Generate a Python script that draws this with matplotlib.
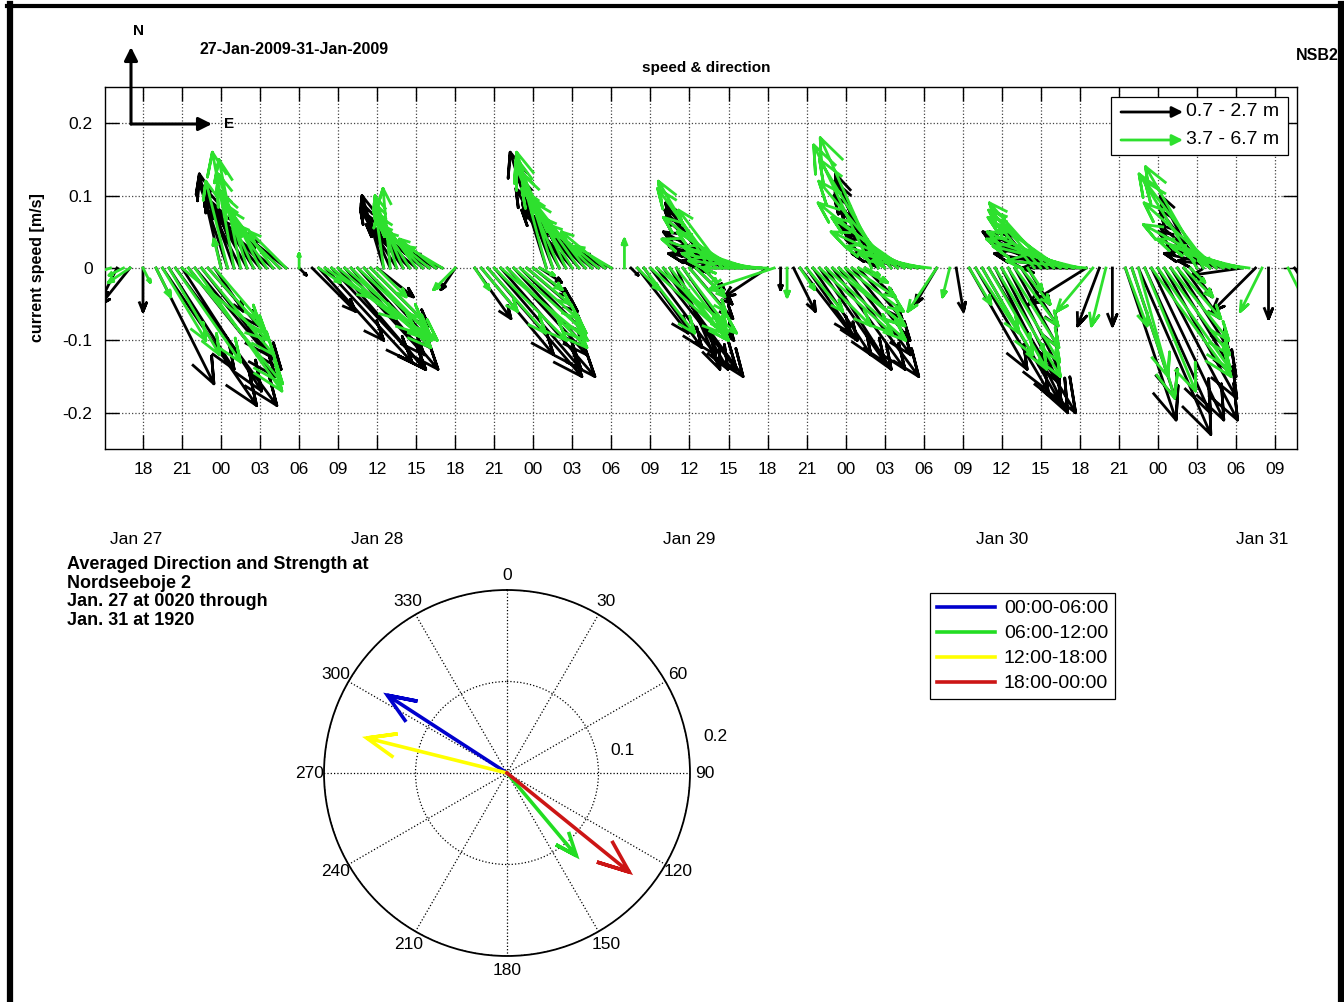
import numpy as np
import matplotlib
matplotlib.use('Agg')
import matplotlib.pyplot as plt
from matplotlib.lines import Line2D
from matplotlib.patches import Rectangle, FancyArrowPatch

plt.rcParams['font.family'] = ['Liberation Sans', 'DejaVu Sans']

# ---- feather data: 30-minute samples, east (u) / north (v) components in cm/s ----
t_start = 15.5      # hours, first sample
t_step = 0.5

u_top = [0, -2, 0, -4, 0, 0, 0,
         8, 13, 9, 14, 11, 12, 10, 11, 7, 4,
         -3, -4, -4, -5, -5, -5, -6, -6, -6, -5, -5,
         0, 1, 0, 6,
         9, 12, 13, 12, 11, 12, 10, 9, 8, 5,
         -3, -4, -5, -5, -6, -6, -6, -6, -5, -4,
         0, -2, 0, 0,
         5, 10, 13, 12, 13, 11, 10, 9, 7, 5, 3,
         -5, -5, -6, -6, -7, -6, -6, -6, -6, -5, -4, 0,
         0, 1,
         7, 8, 9, 11, 11, 8, 6, 7, 6, 5, 3,
         -6, -7, -8, -9, -10, -10, -11, -10, -9, -6, 0, 0, 0, 3,
         7, 7, 8, 9, 9, 10, 11, 9, 8, 6, 4,
         -5, -6, -7, -7, -8, -8, -9, -9, -8, 0, -3, 0, 0, 1, 0,
         8, 10, 11, 12, 10, 8, 7, 6, 5, 3,
         -4, -8, -8, -9, -9, -10, -9, -8, -8, 0, -3, 0, 0, 0,
         7, 6, 10, 9, 10, 11, 10, 9, 7, 5, 3,
         -5, -6, -7, -8, -8, -9, -8, -7, 0, -6, 0, 0, 0, 0, 0, 4]
v_top = [0, -4, 0, -5, 0, -6, 0,
         -16, -19, -14, -19, -17, -15, -12, -14, -8, -6,
         13, 12, 11, 10, 9, 8, 7, 6, 5, 5, 4,
         0, -1, 0, -6,
         -10, -13, -14, -14, -12, -14, -11, -10, -8, -4,
         10, 9, 8, 7, 6, 5, 5, 4, 3, 2,
         0, -3, 0, 0,
         -7, -12, -15, -14, -15, -12, -11, -9, -6, -4, -2,
         16, 13, 11, 9, 8, 7, 6, 5, 4, 3, 2, 0,
         0, -1,
         -9, -11, -12, -14, -15, -14, -14, -10, -7, -5, -3,
         9, 8, 7, 5, 4, 3, 2, 1, 0, -4, 0, -3, 0, -6,
         -9, -10, -12, -13, -14, -14, -15, -12, -10, -7, -4,
         13, 12, 10, 8, 6, 5, 4, 2, 1, 0, -5, 0, 0, -6, 0,
         -14, -17, -19, -20, -20, -16, -14, -11, -8, -5,
         5, 5, 5, 4, 3, 2, 1, 0, -5, 0, -8, 0, -8, 0,
         -21, -18, -23, -20, -21, -21, -18, -15, -11, -7, -4,
         10, 8, 6, 5, 3, 2, 1, -1, 0, -6, 0, -7, 0, 0, 0, -6]

u_deep = [-3, 0, -2, -3, 0, 1, 0,
          2, 6, 7, 9, 12, 13, 12, 10, 8, 6,
          -1, -3, -3, -3, -4, -5, -5, -6, -6, -6, -5,
          0, 0, 0, 0,
          3, 6, 9, 11, 12, 11, 11, 9, 7, 4,
          -1, -1, -3, -4, -5, -5, -6, -6, -5, -5,
          0, -3, 0, 0,
          2, 5, 8, 10, 12, 11, 10, 8, 6, 4, 2,
          -4, -5, -6, -6, -7, -7, -7, -7, -7, -6, -5, 0,
          0, 0,
          3, 7, 10, 11, 9, 8, 7, 6, 5, 4, 2,
          -7, -8, -6, -9, -8, -11, -9, -10, -10, -9, -9, 0, 0, 0,
          2, 5, 8, 10, 11, 10, 9, 8, 6, 4, 2,
          -8, -8, -9, -10, -11, -10, -11, -10, -9, -8, -4, 0, -1, 0, 0,
          3, 6, 7, 8, 9, 8, 7, 6, 4, 2,
          -5, -7, -8, -9, -10, -11, -12, -12, -11, -5, 0, -2, 0, 0,
          3, 5, 5, 7, 11, 10, 9, 8, 6, 4, 2,
          -8, -8, -9, -10, -11, -10, -9, -8, -7, 0, -3, 0, 0, 0, 3, 0]
v_deep = [-1, 0, -1, -2, 0, -2, 0,
          -4, -10, -12, -13, -10, -16, -17, -12, -9, -7,
          4, 12, 16, 15, 13, 11, 10, 9, 8, 6, 5,
          0, 2, 0, 0,
          -2, -4, -7, -9, -10, -11, -10, -9, -7, -4,
          7, 11, 10, 9, 8, 7, 6, 5, 4, 3,
          0, -3, 0, 0,
          -3, -6, -9, -10, -10, -11, -9, -7, -5, -3, -1,
          15, 16, 14, 13, 11, 10, 9, 7, 6, 5, 3, 0,
          4, 0,
          -3, -9, -9, -9, -10, -10, -9, -8, -6, -4, -2,
          12, 11, 8, 7, 5, 4, 3, 2, 1, 0, -3, 0, -4, 0,
          -3, -6, -8, -9, -10, -8, -8, -6, -4, -2, -1,
          17, 18, 15, 12, 9, 7, 5, 3, 2, 1, -6, 0, -4, 0, 0,
          -5, -9, -12, -14, -15, -13, -11, -8, -5, -3,
          6, 8, 9, 8, 7, 5, 4, 3, 1, -6, 0, -8, 0, 0,
          -8, -15, -18, -17, -15, -14, -12, -10, -7, -4, -2,
          13, 14, 12, 9, 6, 4, 3, 2, 1, 0, -6, 0, 0, 0, -6, 0]

tick_hours = list(range(18, 106, 3))
tick_labels = ['18', '21', '00', '03', '06', '09', '12', '15',
               '18', '21', '00', '03', '06', '09', '12', '15',
               '18', '21', '00', '03', '06', '09', '12', '15',
               '18', '21', '00', '03', '06', '09']
date_hours = [17.5, 36, 60, 84, 104]
date_labels = ['Jan 27', 'Jan 28', 'Jan 29', 'Jan 30', 'Jan 31']

# ---- averaged vectors for the compass ----
period_labels = ['00:00-06:00', '06:00-12:00', '12:00-18:00', '18:00-00:00']
period_speed = [0.156, 0.118, 0.158, 0.172]     # m/s
period_dir = [303, 140, 284, 129]               # degrees clockwise from north
period_colors = ['#0000CD', '#22DD22', '#FFFF00', '#CC1515']

BLACK = 'k'
GREEN = '#2EE02E'

W, H = 1344, 1002
fig = plt.figure(figsize=(W / 100, H / 100), dpi=100)


def fx(px):
    return px / W


def fy(py):
    return 1 - py / H


# ---------------- top feather panel ----------------
ax_l, ax_r, ax_t, ax_b = 105, 1297, 87, 449
ax = fig.add_axes([fx(ax_l), fy(ax_b), (ax_r - ax_l) / W, (ax_b - ax_t) / H])
xlim = (15.08, 106.69)
ylim = (-0.25, 0.25)
ax.set_xlim(*xlim)
ax.set_ylim(*ylim)

# hours per (m/s) so that arrow directions are true on screen
px_per_hour = (ax_r - ax_l) / (xlim[1] - xlim[0])
px_per_ms = (ax_b - ax_t) / (ylim[1] - ylim[0])
k = px_per_ms / px_per_hour

# arrow outline used by feather/compass: shaft + two head strokes
HX = np.array([0, 1, .8, 1, .8])
HY = np.array([0, 0, .08, 0, -.08])


def feather_xy(u_cm, v_cm):
    xs, ys = [], []
    for i, (uc, vc) in enumerate(zip(u_cm, v_cm)):
        if uc == 0 and vc == 0:
            continue
        u, v = uc / 100.0, vc / 100.0
        t = t_start + t_step * i
        ex = HX * u - HY * v
        ey = HX * v + HY * u
        xs += list(t + ex * k) + [np.nan]
        ys += list(ey) + [np.nan]
    return xs, ys


bx, by = feather_xy(u_top, v_top)
gx, gy = feather_xy(u_deep, v_deep)
ax.plot(bx, by, color=BLACK, lw=2.0, zorder=3)
ax.plot(gx, gy, color=GREEN, lw=2.0, zorder=3)

ax.set_xticks(tick_hours)
ax.set_xticklabels(tick_labels)
ax.set_yticks([-0.2, -0.1, 0, 0.1, 0.2])
ax.set_yticklabels(['-0.2', '-0.1', '0', '0.1', '0.2'])
ax.tick_params(direction='in', length=10, width=1, top=True, right=True,
               labelsize=12.5, pad=9)
ax.grid(True, linestyle=':', color='#444444', linewidth=0.9)
for s in ax.spines.values():
    s.set_linewidth(1.0)
ax.set_ylabel('current speed [m/s]', fontsize=11.5, fontweight='bold')
ax.yaxis.set_label_coords((45 - ax_l) / (ax_r - ax_l), 0.5)

for h, lab in zip(date_hours, date_labels):
    ax.text(h, -(540 - ax_b) / (ax_b - ax_t), lab, transform=ax.get_xaxis_transform(),
            ha='center', va='center', fontsize=12.5, clip_on=False)


def axf(px, py):
    return ((px - ax_l) / (ax_r - ax_l), 1 - (py - ax_t) / (ax_b - ax_t))


# legend box with arrows
x0, y0 = axf(1111, 155)
x1, y1 = axf(1288, 97)
ax.add_patch(Rectangle((x0, y0), x1 - x0, y1 - y0, transform=ax.transAxes,
                       facecolor='white', edgecolor='k', lw=0.9, zorder=6))
for py, col, lab in [(112, BLACK, '0.7 - 2.7 m'), (140, GREEN, '3.7 - 6.7 m')]:
    ax.add_patch(FancyArrowPatch(axf(1121, py), axf(1183, py), transform=ax.transAxes,
                                 arrowstyle='-|>', mutation_scale=16, lw=2.0,
                                 color=col, zorder=7, shrinkA=0, shrinkB=0))
    ax.text(*axf(1186, py), lab, transform=ax.transAxes, ha='left', va='center',
            fontsize=14, zorder=7)

# header texts and N/E sign
fig.text(fx(294), fy(49), '27-Jan-2009-31-Jan-2009', ha='center', va='center',
         fontsize=11.5, fontweight='bold')
fig.text(fx(706), fy(68), 'speed & direction', ha='center', va='center',
         fontsize=11, fontweight='bold')
fig.text(fx(1296), fy(55), 'NSB2', ha='left', va='center', fontsize=11.5,
         fontweight='bold')
fig.text(fx(138), fy(31), 'N', ha='center', va='center', fontsize=11, fontweight='bold')
fig.text(fx(229), fy(124), 'E', ha='center', va='center', fontsize=11, fontweight='bold')
for p0, p1 in [((131, 124), (131, 47)), ((131, 124), (212, 124))]:
    fig.add_artist(FancyArrowPatch((fx(p0[0]), fy(p0[1])), (fx(p1[0]), fy(p1[1])),
                                   transform=fig.transFigure, arrowstyle='-|>',
                                   mutation_scale=20, lw=2.2, color='k',
                                   shrinkA=0, shrinkB=0, zorder=8))

# ---------------- compass panel ----------------
pc_x, pc_y, pr = 507, 773, 183
pax = fig.add_axes([fx(pc_x - pr), fy(pc_y + pr), 2 * pr / W, 2 * pr / H],
                   projection='polar')
pax.set_theta_zero_location('N')
pax.set_theta_direction(-1)
pax.set_ylim(0, 0.2)
pax.set_rticks([0.1, 0.2])
pax.set_yticklabels([])
pax.set_thetagrids(range(0, 360, 30), labels=[str(a) for a in range(0, 360, 30)],
                   fontsize=12.5)
pax.tick_params(axis='x', pad=0)
pax.grid(True, linestyle=':', color='k', linewidth=0.9)
pax.spines['polar'].set_linewidth(1.3)
pax.text(np.deg2rad(79), 0.129, '0.1', ha='center', va='center', fontsize=12.5)
pax.text(np.deg2rad(80), 0.231, '0.2', ha='center', va='center', fontsize=12.5,
         clip_on=False)

for sp, d, col in zip(period_speed, period_dir, period_colors):
    e, n = sp * np.sin(np.deg2rad(d)), sp * np.cos(np.deg2rad(d))
    px_ = HX * e + HY * n
    py_ = HX * n - HY * e
    th = np.arctan2(px_, py_)
    th[0] = np.deg2rad(d)
    r = np.hypot(px_, py_)
    pax.plot(th, r, color=col, lw=2.6, zorder=5, solid_joinstyle='miter')

leg = fig.legend(handles=[Line2D([], [], color=c, lw=2.6) for c in period_colors],
                 labels=period_labels, loc='upper left',
                 bbox_to_anchor=(fx(930), fy(593)), fontsize=14, handlelength=3.0,
                 frameon=True, fancybox=False, edgecolor='k', framealpha=1,
                 borderaxespad=0, borderpad=0.35, labelspacing=0.38, handletextpad=0.45)
leg.get_frame().set_linewidth(0.9)

fig.text(fx(67), fy(556), 'Averaged Direction and Strength at\nNordseeboje 2\n'
         'Jan. 27 at 0020 through\nJan. 31 at 1920', ha='left', va='top',
         fontsize=13, fontweight='bold', linespacing=1.13)

# outer frame
fig.add_artist(Line2D([fx(10), fx(10)], [0, fy(4)], lw=4.5, color='k',
                      transform=fig.transFigure, zorder=20))
fig.add_artist(Line2D([fx(7), 1], [fy(6), fy(6)], lw=3.0, color='k',
                      transform=fig.transFigure, zorder=20))
fig.add_artist(Line2D([fx(1340.5), fx(1340.5)], [0, fy(4)], lw=5.2, color='k',
                      transform=fig.transFigure, zorder=20))

fig.savefig('out.png', dpi=100, facecolor='white')
